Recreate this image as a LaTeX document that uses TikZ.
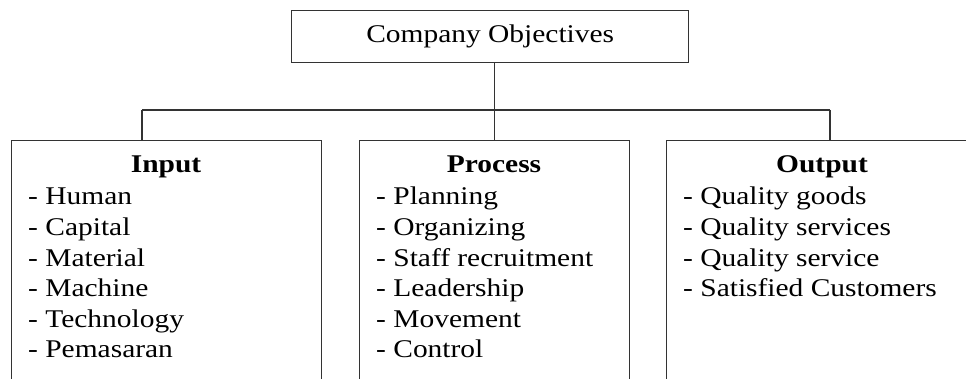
\documentclass[tikz,border=0pt]{standalone}
\usepackage{fontspec}
\setmainfont{Liberation Serif}[FakeStretch=1.155]
\begin{document}
\begin{tikzpicture}[x=1pt, y=-1pt,
    panel/.style={draw=black!80, line width=1.4pt, anchor=north west, inner sep=0pt},
    link/.style={draw=black!80, line width=1.4pt},
    entry/.style={font=\fontsize{25.5}{30.5}\selectfont, anchor=base west, inner sep=0pt},
    heading/.style={font=\fontsize{25.5}{30.5}\selectfont\bfseries, anchor=base, inner sep=0pt}]
   \useasboundingbox (0,0) rectangle (966,379);
   \clip (0,0) rectangle (966,379);

   \node[panel, minimum width=397pt, minimum height=52pt,
         font=\fontsize{25.5}{30.5}\selectfont] (obj) at (291,10) {Company Objectives};
   \node[panel, minimum width=310pt, minimum height=260pt] (inp)  at (11,140)  {};
   \node[panel, minimum width=270pt, minimum height=260pt] (proc) at (359,140) {};
   \node[panel, minimum width=312pt, minimum height=260pt] (outp) at (666,140) {};

   \coordinate (busL) at (142,110);
   \coordinate (busR) at (830,110);
   \draw[link] (proc.north |- obj.south) -- (proc.north);
   \draw[link] (busL) -- (busR);
   \draw[link] (busL) -- (busL |- inp.north);
   \draw[link] (busR) -- (busR |- outp.north);

   \node[heading] (inph)  at (166,173) {Input};
   \node[heading] (proch) at (494,173) {Process};
   \node[heading] (outph) at (822,173) {Output};

   \foreach \t [count=\i] in {Human, Capital, Material, Machine, Technology, Pemasaran}
     \node[entry] (in-\i) at (28,174.5+30.5*\i) {- \t};
   \foreach \t [count=\i] in {Planning, Organizing, Staff recruitment, Leadership, Movement, Control}
     \node[entry] (pr-\i) at (376,174.5+30.5*\i) {- \t};
   \foreach \t [count=\i] in {Quality goods, Quality services, Quality service, Satisfied Customers}
     \node[entry] (out-\i) at (683,174.5+30.5*\i) {- \t};
\end{tikzpicture}
\end{document}
